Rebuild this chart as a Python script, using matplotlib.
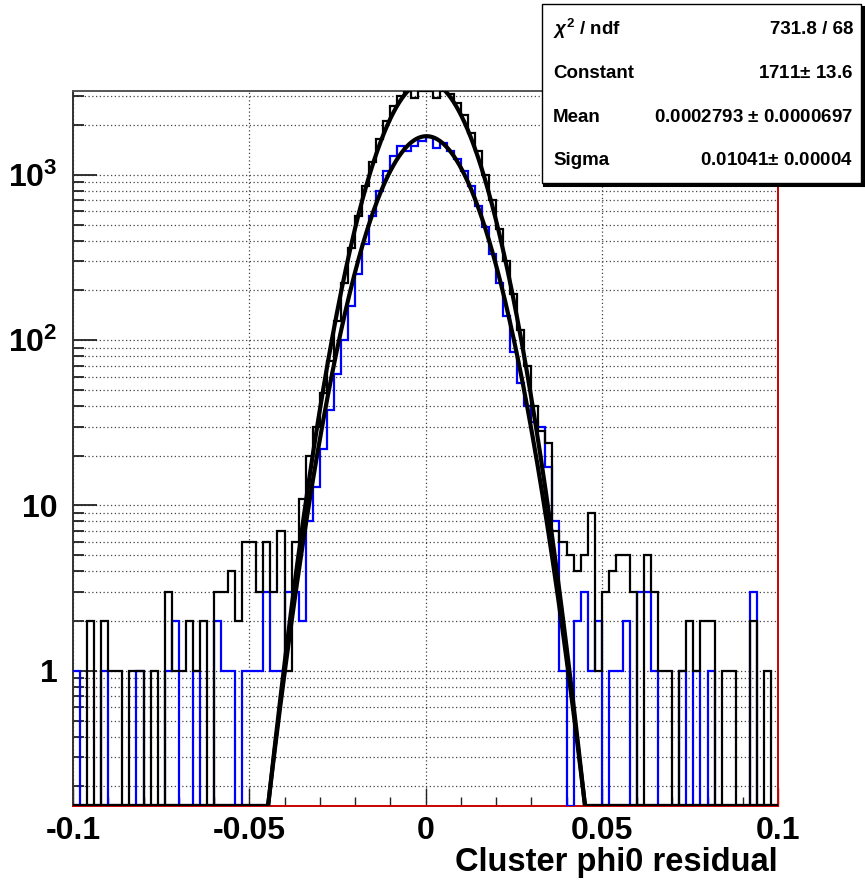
import numpy as np
import matplotlib
matplotlib.use("Agg")
import matplotlib.pyplot as plt
from matplotlib.patches import Rectangle
from matplotlib.ticker import FixedLocator, FixedFormatter, LogLocator, MultipleLocator, NullFormatter

plt.rcParams['font.family'] = ['Liberation Sans', 'DejaVu Sans']
plt.rcParams['font.weight'] = 'bold'
plt.rcParams['mathtext.fontset'] = 'custom'
plt.rcParams['mathtext.rm'] = 'Liberation Sans:bold'
plt.rcParams['mathtext.bf'] = 'Liberation Sans:bold'
plt.rcParams['mathtext.it'] = 'Liberation Sans:bold:italic'

# binning: 100 bins from -0.1 to 0.1
x_lo, x_hi, n_bins = -0.1, 0.1, 100
edges = np.linspace(x_lo, x_hi, n_bins + 1)

# black histogram
black_counts = [
    0, 0, 2, 0, 2, 1, 1, 0, 1, 1,
    0, 1, 0, 3, 1, 1, 2, 1, 2, 0,
    3, 3, 4, 2, 6, 6, 3, 6, 3, 7,
    1, 6, 11, 20, 30, 48, 75, 130, 220, 360,
    560, 850, 1200, 1650, 2100, 2600, 3000, 3300, 2900, 3400,
    3500, 2900, 3400, 3100, 2700, 2300, 1800, 1400, 1000, 700,
    470, 300, 190, 115, 70, 40, 28, 24, 7, 6,
    5, 4, 5, 9, 1, 3, 4, 5, 5, 3,
    0, 5, 3, 1, 1, 0, 1, 2, 1, 2,
    2, 0, 1, 1, 0, 0, 2, 0, 1, 0,
]

# blue histogram
blue_counts = [
    1, 0, 0, 0, 1, 0, 0, 0, 0, 1,
    0, 0, 0, 1, 2, 0, 0, 1, 0, 0,
    2, 1, 1, 0, 1, 1, 1, 3, 1, 1,
    3, 3, 2, 8, 13, 22, 38, 62, 100, 160,
    250, 380, 560, 800, 1050, 1300, 1500, 1400, 1500, 1600,
    1700, 1450, 1550, 1400, 1250, 1050, 850, 650, 480, 330,
    220, 140, 85, 55, 40, 32, 30, 17, 8, 1,
    0, 2, 3, 1, 2, 0, 1, 1, 2, 0,
    3, 3, 1, 0, 0, 0, 1, 0, 1, 0,
    1, 0, 0, 0, 0, 0, 3, 0, 0, 0,
]

# gaussian fits: constant, mean, sigma
fit_black = (3700, 0.0003, 0.0100)
fit_blue = (1711, 0.0002793, 0.01041)

stats_names = [r'$\chi^{2}$ / ndf', 'Constant', 'Mean', 'Sigma']
stats_values = ['731.8 / 68', '1711$\\pm$ 13.6', '0.0002793 $\\pm$ 0.0000697', '0.01041$\\pm$ 0.00004']

x_ticks = [-0.1, -0.05, 0, 0.05, 0.1]
x_ticklabels = ['-0.1', '-0.05', '0', '0.05', '0.1']
y_ticks = [1, 10, 100, 1000]
y_ticklabels = ['1', '10', r'$10^{2}$', r'$10^{3}$']
x_title = 'Cluster phi0 residual'

y_min, y_max = 0.152, 3210

W, H = 865, 880
fig = plt.figure(figsize=(W / 100, H / 100), dpi=100)
ax = fig.add_axes([73 / W, 1 - 806 / H, (778 - 73) / W, (806 - 91) / H])
ax.set_yscale('log')
ax.set_xlim(x_lo, x_hi)
ax.set_ylim(y_min, y_max)


def to_screen(v):
    # ROOT draws empty bins on the frame bottom and clips at the top
    v = np.asarray(v, dtype=float)
    v = np.where(v > 0, v, y_min)
    return np.clip(v, y_min, y_max)


ax.stairs(to_screen(blue_counts), edges, baseline=None, color='#0000ff', lw=1.6, zorder=3)
ax.stairs(to_screen(black_counts), edges, baseline=None, color='black', lw=1.6, zorder=4)

xf = np.linspace(x_lo, x_hi, 2000)
for amp, mu, sig in (fit_black, fit_blue):
    yf = amp * np.exp(-0.5 * ((xf - mu) / sig) ** 2)
    ax.plot(xf, np.clip(yf, y_min, None), color='black', lw=3.0, zorder=5, solid_capstyle='round')

# grid
ax.yaxis.set_major_locator(FixedLocator(y_ticks))
ax.yaxis.set_major_formatter(FixedFormatter(y_ticklabels))
ax.yaxis.set_minor_locator(LogLocator(base=10, subs=np.arange(2, 10)))
ax.yaxis.set_minor_formatter(NullFormatter())
ax.xaxis.set_major_locator(FixedLocator(x_ticks))
ax.xaxis.set_major_formatter(FixedFormatter(x_ticklabels))
ax.xaxis.set_minor_locator(MultipleLocator(0.01))
ax.grid(True, which='major', axis='x', color='#444444', lw=0.9, ls=(0, (1, 2)), zorder=0)
ax.grid(True, which='both', axis='y', color='#444444', lw=0.9, ls=(0, (1, 2)), zorder=0)
ax.set_axisbelow(True)

ax.tick_params(axis='both', which='both', direction='in', colors='#222222')
ax.tick_params(axis='y', which='major', length=17, width=1.3, labelsize=23, pad=11)
ax.tick_params(axis='y', which='minor', length=8, width=1.3)
ax.tick_params(axis='x', which='major', length=13, width=1.0, labelsize=23, pad=7)
ax.tick_params(axis='x', which='minor', length=6.5, width=1.0)
for lab in ax.get_xticklabels() + ax.get_yticklabels():
    lab.set_fontweight('bold')
    lab.set_color('black')

ax.spines['left'].set_color('#333333')
ax.spines['top'].set_color('#555555')
ax.spines['bottom'].set_color('#cc0000')
ax.spines['right'].set_color('#cc0000')
for s in ax.spines.values():
    s.set_linewidth(1.4)

fig.text(778 / W, 1 - 862 / H, x_title, ha='right', va='center', fontsize=23.5, fontweight='bold')

# stats box
bx0, bx1, by0, by1 = 542, 861, 4, 183
fig.patches.append(Rectangle((bx0 / W, 1 - by1 / H), (bx1 - bx0) / W, (by1 - by0) / H,
                             transform=fig.transFigure, facecolor='white', edgecolor='black',
                             lw=1.0, zorder=10))
fig.lines.append(plt.Line2D([bx0 / W + 0.002, bx1 / W + 0.002], [1 - (by1 + 1.5) / H] * 2,
                            transform=fig.transFigure, color='black', lw=2.2, zorder=10))
fig.lines.append(plt.Line2D([bx1 / W + 0.002] * 2, [1 - (by1 + 1.5) / H, 1 - (by0 + 3) / H],
                            transform=fig.transFigure, color='black', lw=2.2, zorder=10))
row_y = [29, 73, 118, 160]
for name, val, yy in zip(stats_names, stats_values, row_y):
    fig.text(553 / W, 1 - yy / H, name, ha='left', va='center', fontsize=13.5, fontweight='bold', zorder=11)
    fig.text(853 / W, 1 - yy / H, val, ha='right', va='center', fontsize=13.5, fontweight='bold', zorder=11)

fig.savefig('out.png', dpi=100)
